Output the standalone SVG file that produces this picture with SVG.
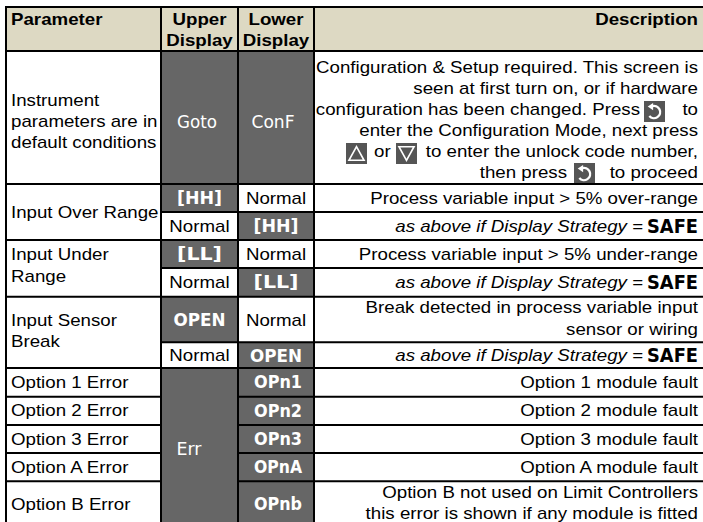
<svg xmlns="http://www.w3.org/2000/svg" width="703" height="522" viewBox="0 0 703 522">
<style>
.t{font-family:"Liberation Sans",Arial,sans-serif;font-size:16.4px;fill:#000}
.b{font-weight:bold}
.i{font-style:italic}
.e{text-anchor:end}
.m{text-anchor:middle}
.seg{font-family:"DejaVu Sans",sans-serif;font-size:18px;fill:#fff;text-anchor:middle}
.sb{font-weight:bold}
.safe{font-family:"DejaVu Sans",sans-serif;font-size:20px;font-weight:bold;fill:#000;text-anchor:end}
.dk{fill:#666}
.hd{fill:#DDD9C3}
.grid{stroke:#000;stroke-width:2;fill:none}
</style>
<defs>
<symbol id="rot" viewBox="0 0 17 17"><rect width="17" height="17" fill="#555"/><path d="M6.4 4.2 A5 5 0 1 1 4.3 12.2" fill="none" stroke="#fff" stroke-width="1.9"/><polygon points="3,4.5 7.4,1.6 7.4,7.4" fill="#fff"/></symbol>
<symbol id="up" viewBox="0 0 17 17"><rect width="17" height="17" fill="#555"/><polygon points="8.5,3 14.6,14 2.4,14" fill="none" stroke="#fff" stroke-width="1.3"/></symbol>
<symbol id="down" viewBox="0 0 17 17"><rect width="17" height="17" fill="#555"/><polygon points="2.4,3 14.6,3 8.5,14" fill="none" stroke="#fff" stroke-width="1.3"/></symbol>
</defs>

<g id="header">
<rect class="hd" x="6" y="7" width="697" height="44"/>
<g transform="scale(1.14 1)">
<text class="t b" x="9.65" y="25">Parameter</text>
<text class="t b m" x="175" y="25">Upper</text>
<text class="t b m" x="175" y="46">Display</text>
<text class="t b m" x="242.11" y="25">Lower</text>
<text class="t b m" x="242.11" y="46">Display</text>
<text class="t b e" x="612.28" y="25">Description</text>
</g>
</g>

<g id="row-default">
<rect class="dk" x="161" y="51" width="77" height="133"/>
<rect class="dk" x="238" y="51" width="76" height="133"/>
<text class="seg" x="197" y="128" textLength="40" lengthAdjust="spacingAndGlyphs">Goto</text>
<text class="seg" x="273" y="128" textLength="43" lengthAdjust="spacingAndGlyphs">ConF</text>
<g transform="scale(1.14 1)">
<text class="t" x="9.65" y="106.5">Instrument</text>
<text class="t" x="9.65" y="127">parameters are in</text>
<text class="t" x="9.65" y="148">default conditions</text>
<text class="t e" x="612.28" y="73">Configuration &amp; Setup required. This screen is</text>
<text class="t e" x="612.28" y="94">seen at first turn on, or if hardware</text>
<text class="t e" x="561.4" y="115">configuration has been changed. Press</text>
<text class="t e" x="612.28" y="115">to</text>
<text class="t e" x="612.28" y="136">enter the Configuration Mode, next press</text>
<text class="t" x="328.1" y="157">or</text>
<text class="t e" x="612.28" y="157">to enter the unlock code number,</text>
<text class="t e" x="497.4" y="178">then press</text>
<text class="t e" x="612.28" y="178">to proceed</text>
</g>
<use href="#rot" x="644" y="101" width="21" height="21"/>
<use href="#up" x="346" y="143" width="21" height="21"/>
<use href="#down" x="396" y="143" width="21" height="21"/>
<use href="#rot" x="574" y="163" width="21" height="21"/>
</g>

<g id="row-over-range">
<rect class="dk" x="161" y="184" width="77" height="28"/>
<rect class="dk" x="238" y="212" width="76" height="28"/>
<text class="seg sb" x="199.5" y="204" textLength="45" lengthAdjust="spacingAndGlyphs">[HH]</text>
<text class="seg sb" x="276" y="232" textLength="45" lengthAdjust="spacingAndGlyphs">[HH]</text>
<g transform="scale(1.14 1)">
<text class="t" x="9.65" y="218">Input Over Range</text>
<text class="t m" x="242.11" y="204">Normal</text>
<text class="t m" x="175" y="232">Normal</text>
<text class="t e" x="612.28" y="204">Process variable input &gt; 5% over-range</text>
<text class="t i e" x="564.04" y="232">as above if Display Strategy =</text>
</g>
<text class="safe" x="698" y="233" textLength="51" lengthAdjust="spacingAndGlyphs">SAFE</text>
</g>

<g id="row-under-range">
<rect class="dk" x="161" y="240" width="77" height="28"/>
<rect class="dk" x="238" y="268" width="76" height="28.7"/>
<text class="seg sb" x="199.5" y="260" textLength="45" lengthAdjust="spacingAndGlyphs">[LL]</text>
<text class="seg sb" x="276" y="288" textLength="45" lengthAdjust="spacingAndGlyphs">[LL]</text>
<g transform="scale(1.14 1)">
<text class="t" x="9.65" y="260">Input Under</text>
<text class="t" x="9.65" y="282">Range</text>
<text class="t m" x="242.11" y="260">Normal</text>
<text class="t m" x="175" y="288">Normal</text>
<text class="t e" x="612.28" y="260">Process variable input &gt; 5% under-range</text>
<text class="t i e" x="564.04" y="288">as above if Display Strategy =</text>
</g>
<text class="safe" x="698" y="289" textLength="51" lengthAdjust="spacingAndGlyphs">SAFE</text>
</g>

<g id="row-sensor-break">
<rect class="dk" x="161" y="296.7" width="77" height="45.6"/>
<rect class="dk" x="238" y="342.3" width="76" height="25.7"/>
<text class="seg sb" x="199.5" y="326" textLength="52" lengthAdjust="spacingAndGlyphs">OPEN</text>
<text class="seg sb" x="276" y="362" textLength="52" lengthAdjust="spacingAndGlyphs">OPEN</text>
<g transform="scale(1.14 1)">
<text class="t" x="9.65" y="326">Input Sensor</text>
<text class="t" x="9.65" y="347">Break</text>
<text class="t m" x="242.11" y="326">Normal</text>
<text class="t m" x="175" y="361">Normal</text>
<text class="t e" x="612.28" y="313.5">Break detected in process variable input</text>
<text class="t e" x="612.28" y="335">sensor or wiring</text>
<text class="t i e" x="564.04" y="361">as above if Display Strategy =</text>
</g>
<text class="safe" x="698" y="362" textLength="51" lengthAdjust="spacingAndGlyphs">SAFE</text>
</g>

<g id="row-options">
<rect class="dk" x="161" y="368" width="77" height="154"/>
<text class="seg" x="189" y="455" textLength="25" lengthAdjust="spacingAndGlyphs">Err</text>
</g>

<g id="row-option-1">
<rect class="dk" x="238" y="368" width="76" height="28.7"/>
<text class="seg sb" x="278" y="388" textLength="48" lengthAdjust="spacingAndGlyphs">OPn1</text>
<g transform="scale(1.14 1)">
<text class="t" x="9.65" y="388">Option 1 Error</text>
<text class="t e" x="612.28" y="388">Option 1 module fault</text>
</g>
</g>

<g id="row-option-2">
<rect class="dk" x="238" y="396.7" width="76" height="28.3"/>
<text class="seg sb" x="278" y="416.5" textLength="48" lengthAdjust="spacingAndGlyphs">OPn2</text>
<g transform="scale(1.14 1)">
<text class="t" x="9.65" y="416.5">Option 2 Error</text>
<text class="t e" x="612.28" y="416.5">Option 2 module fault</text>
</g>
</g>

<g id="row-option-3">
<rect class="dk" x="238" y="425" width="76" height="28"/>
<text class="seg sb" x="278" y="445" textLength="48" lengthAdjust="spacingAndGlyphs">OPn3</text>
<g transform="scale(1.14 1)">
<text class="t" x="9.65" y="445">Option 3 Error</text>
<text class="t e" x="612.28" y="445">Option 3 module fault</text>
</g>
</g>

<g id="row-option-a">
<rect class="dk" x="238" y="453" width="76" height="28.3"/>
<text class="seg sb" x="278" y="473" textLength="48" lengthAdjust="spacingAndGlyphs">OPnA</text>
<g transform="scale(1.14 1)">
<text class="t" x="9.65" y="473">Option A Error</text>
<text class="t e" x="612.28" y="473">Option A module fault</text>
</g>
</g>

<g id="row-option-b">
<rect class="dk" x="238" y="481.3" width="76" height="41"/>
<text class="seg sb" x="278" y="510" textLength="48" lengthAdjust="spacingAndGlyphs">OPnb</text>
<g transform="scale(1.14 1)">
<text class="t" x="9.65" y="510">Option B Error</text>
<text class="t e" x="612.28" y="498">Option B not used on Limit Controllers</text>
<text class="t e" x="612.28" y="519">this error is shown if any module is fitted</text>
</g>
</g>

<g id="connectors">
<path class="grid" d="M5 7 H703 M6 6 V522 M161 7 V522 M238 7 V522 M314 7 V522 M6 51 H703 M6 184 H703 M161 212 H703 M6 240 H703 M161 268 H703 M6 296.7 H703 M161 342.3 H703 M6 368 H703 M6 396.7 H161 M238 396.7 H703 M6 425 H161 M238 425 H703 M6 453 H161 M238 453 H703 M6 481.3 H161 M238 481.3 H703"/>
</g>
</svg>
